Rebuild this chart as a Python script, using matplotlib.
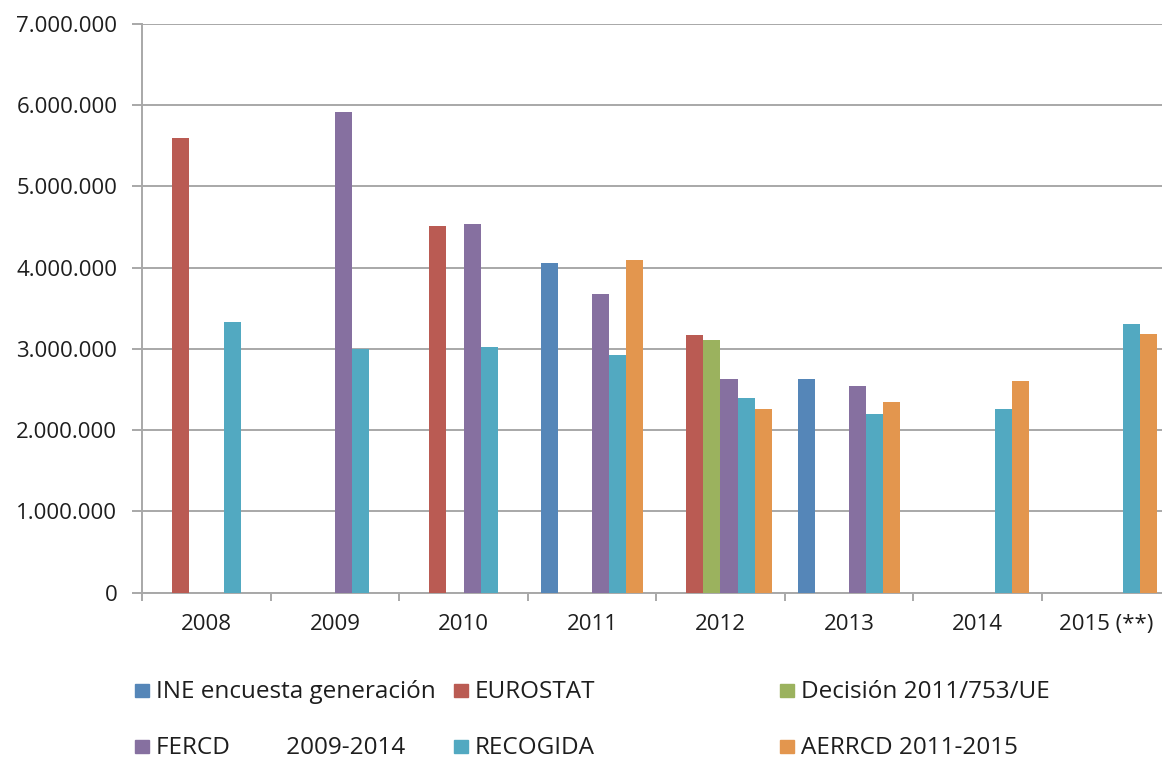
import numpy as np
import matplotlib
matplotlib.use("Agg")
import matplotlib.pyplot as plt
from matplotlib.patches import Rectangle
from matplotlib.ticker import FuncFormatter, FixedLocator

plt.rcParams['font.family'] = ['Open Sans', 'DejaVu Sans']

categories = ["2008", "2009", "2010", "2011", "2012", "2013", "2014", "2015 (**)"]
nan = np.nan
ine = [nan, nan, nan, 4053000, nan, 2624000, nan, nan]
eurostat = [5595000, nan, 4516000, nan, 3172000, nan, nan, nan]
decision = [nan, nan, nan, nan, 3110000, nan, nan, nan]
fercd = [nan, 5910000, 4537000, 3668000, 2630000, 2537000, nan, nan]
recogida = [3335000, 3000000, 3025000, 2920000, 2393000, 2198000, 2264000, 3306000]
aerrcd = [nan, nan, nan, 4094000, 2260000, 2347000, 2603000, 3178000]

series_names = ["INE encuesta generación", "EUROSTAT", "Decisión 2011/753/UE",
                "FERCD" + " " * 9 + "2009-2014", "RECOGIDA", "AERRCD 2011-2015"]
series_values = [ine, eurostat, decision, fercd, recogida, aerrcd]
colors = ["#5586b8", "#ba5b53", "#9bb25e", "#8670a0", "#52a9c1", "#e3964e"]

W, H = 1162, 758
fig = plt.figure(figsize=(W / 100, H / 100), dpi=100)
ax = fig.add_axes([142.25 / W, 1 - 592.7 / H, 1028 / W, (592.7 - 23.6) / H])

n = len(series_values)
bw = 0.8 / n
x = np.arange(len(categories))
for i, (vals, c) in enumerate(zip(series_values, colors)):
    ax.bar(x + (i - (n - 1) / 2) * bw, vals, width=bw, color=c, zorder=3,
           edgecolor="none")

ax.set_xlim(-0.5, len(categories) - 0.5)
ax.set_ylim(0, 7000000)
ax.set_yticks(np.arange(0, 7000001, 1000000))
ax.yaxis.set_major_formatter(FuncFormatter(lambda v, p: f"{v:,.0f}".replace(",", ".")))
ax.grid(axis="y", color="#a8a8a8", linewidth=1.4, zorder=0)

ax.xaxis.set_major_locator(FixedLocator(np.arange(-0.5, len(categories), 1.0)))
ax.xaxis.set_major_formatter(FuncFormatter(lambda v, p: ""))
ax.xaxis.set_minor_locator(FixedLocator(x))
ax.set_xticklabels(categories, minor=True)
ax.tick_params(axis="x", which="major", length=6, width=1.4, color="#a8a8a8", direction="out")
ax.tick_params(axis="x", which="minor", length=0, pad=15, labelsize=16, labelcolor="#1e1e1e")
ax.tick_params(axis="y", length=7, width=1.4, color="#a8a8a8", pad=11, labelsize=16,
               labelcolor="#1e1e1e")

for s in ["top", "right"]:
    ax.spines[s].set_visible(False)
for s in ["left", "bottom"]:
    ax.spines[s].set_color("#a8a8a8")
    ax.spines[s].set_linewidth(1.4)

# Legend (manual, two rows of three)
col_x = [135, 454, 780]
row_y = [692, 748]
for k, (name, c) in enumerate(zip(series_names, colors)):
    r, cc = divmod(k, 3)
    px, py = col_x[cc], row_y[r]
    fig.patches.append(Rectangle((px / W, 1 - (py + 5) / H), 14 / W, 13 / H,
                                 transform=fig.transFigure, color=c, figure=fig))
    fig.text((px + 21) / W, 1 - py / H, name, fontsize=17.5, color="#1e1e1e",
             va="center", ha="left")

fig.savefig("out.png", dpi=100)
